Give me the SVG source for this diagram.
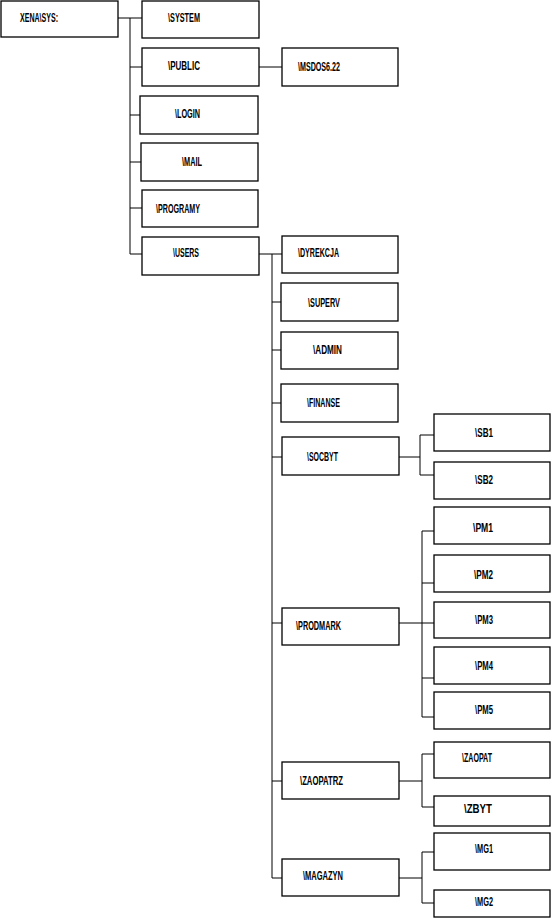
<svg xmlns="http://www.w3.org/2000/svg" width="553" height="918" viewBox="0 0 553 918">
<style>
.b{fill:#fff;stroke:#000;stroke-width:1.3}
.t{font-family:"Liberation Sans",Arial,sans-serif;font-size:13px;font-weight:bold;fill:#000}
.c{fill:none;stroke:#000;stroke-width:1}
</style>
<rect width="553" height="918" fill="#fff"/>
<g id="connectors">
<path class="c" d="M118,18H130M130,18V254M130,18H142M130,67H142M130,115H142M130,162H142M130,208H142M130,254H142"/>
<path class="c" d="M259,67H282"/>
<path class="c" d="M259,254H272M272,254V878M272,254H282M272,302H282M272,350H282M272,403H282M272,457H282M272,623H282M272,781H282M272,878H282"/>
<path class="c" d="M399,457H420M420,435V475M420,435H434M420,475H434"/>
<path class="c" d="M399,623H434M422,531V717M422,531H434M422,583H434M422,678H434M422,717H434"/>
<path class="c" d="M399,781H422M422,754V807M422,754H434M422,807H434"/>
<path class="c" d="M399,878H422M422,852V903M422,852H434M422,903H434"/>
</g>
<g id="root"><rect class="b" x="1" y="1" width="117" height="36"/><text class="t" x="20" y="22" textLength="38" lengthAdjust="spacingAndGlyphs">XENA\SYS:</text></g>
<g id="system"><rect class="b" x="142" y="1" width="117" height="37"/><text class="t" x="168" y="22" textLength="32" lengthAdjust="spacingAndGlyphs">\SYSTEM</text></g>
<g id="public"><rect class="b" x="142" y="48" width="117" height="38"/><text class="t" x="168" y="70" textLength="32" lengthAdjust="spacingAndGlyphs">\PUBLIC</text></g>
<g id="msdos"><rect class="b" x="282" y="48" width="116" height="38"/><text class="t" x="298" y="71" textLength="42" lengthAdjust="spacingAndGlyphs">\MSDOS6.22</text></g>
<g id="login"><rect class="b" x="140" y="96" width="118" height="38"/><text class="t" x="175" y="118" textLength="25" lengthAdjust="spacingAndGlyphs">\LOGIN</text></g>
<g id="mail"><rect class="b" x="141" y="143" width="117" height="38"/><text class="t" x="182" y="166" textLength="20" lengthAdjust="spacingAndGlyphs">\MAIL</text></g>
<g id="programy"><rect class="b" x="142" y="190" width="116" height="37"/><text class="t" x="156" y="213" textLength="44" lengthAdjust="spacingAndGlyphs">\PROGRAMY</text></g>
<g id="users"><rect class="b" x="142" y="237" width="117" height="38"/><text class="t" x="173" y="257" textLength="26" lengthAdjust="spacingAndGlyphs">\USERS</text></g>
<g id="dyrekcja"><rect class="b" x="282" y="236" width="116" height="37"/><text class="t" x="298" y="257" textLength="41" lengthAdjust="spacingAndGlyphs">\DYREKCJA</text></g>
<g id="superv"><rect class="b" x="281" y="283" width="117" height="38"/><text class="t" x="308" y="307" textLength="32" lengthAdjust="spacingAndGlyphs">\SUPERV</text></g>
<g id="admin"><rect class="b" x="281" y="332" width="117" height="37"/><text class="t" x="313" y="354" textLength="29" lengthAdjust="spacingAndGlyphs">\ADMIN</text></g>
<g id="finanse"><rect class="b" x="281" y="384" width="117" height="38"/><text class="t" x="307" y="407" textLength="33" lengthAdjust="spacingAndGlyphs">\FINANSE</text></g>
<g id="socbyt"><rect class="b" x="282" y="437" width="117" height="38"/><text class="t" x="307" y="461" textLength="31" lengthAdjust="spacingAndGlyphs">\SOCBYT</text></g>
<g id="sb1"><rect class="b" x="434" y="414" width="116" height="37"/><text class="t" x="475" y="437" textLength="18" lengthAdjust="spacingAndGlyphs">\SB1</text></g>
<g id="sb2"><rect class="b" x="434" y="462" width="116" height="37"/><text class="t" x="475" y="484" textLength="18" lengthAdjust="spacingAndGlyphs">\SB2</text></g>
<g id="prodmark"><rect class="b" x="282" y="608" width="117" height="37"/><text class="t" x="296" y="630" textLength="45" lengthAdjust="spacingAndGlyphs">\PRODMARK</text></g>
<g id="pm1"><rect class="b" x="434" y="507" width="116" height="37"/><text class="t" x="473" y="532" textLength="20" lengthAdjust="spacingAndGlyphs">\PM1</text></g>
<g id="pm2"><rect class="b" x="434" y="555" width="116" height="37"/><text class="t" x="474" y="579" textLength="19" lengthAdjust="spacingAndGlyphs">\PM2</text></g>
<g id="pm3"><rect class="b" x="434" y="602" width="116" height="36"/><text class="t" x="475" y="624" textLength="18" lengthAdjust="spacingAndGlyphs">\PM3</text></g>
<g id="pm4"><rect class="b" x="434" y="647" width="116" height="37"/><text class="t" x="475" y="670" textLength="18" lengthAdjust="spacingAndGlyphs">\PM4</text></g>
<g id="pm5"><rect class="b" x="434" y="692" width="116" height="37"/><text class="t" x="475" y="714" textLength="18" lengthAdjust="spacingAndGlyphs">\PM5</text></g>
<g id="zaopatrz"><rect class="b" x="282" y="762" width="117" height="37"/><text class="t" x="300" y="785" textLength="43" lengthAdjust="spacingAndGlyphs">\ZAOPATRZ</text></g>
<g id="zaopat"><rect class="b" x="434" y="742" width="116" height="36"/><text class="t" x="462" y="762" textLength="30" lengthAdjust="spacingAndGlyphs">\ZAOPAT</text></g>
<g id="zbyt"><rect class="b" x="434" y="796" width="116" height="30"/><text class="t" x="464" y="813" textLength="28" lengthAdjust="spacingAndGlyphs">\ZBYT</text></g>
<g id="magazyn"><rect class="b" x="282" y="859" width="117" height="37"/><text class="t" x="303" y="880" textLength="40" lengthAdjust="spacingAndGlyphs">\MAGAZYN</text></g>
<g id="mg1"><rect class="b" x="434" y="833" width="116" height="37"/><text class="t" x="475" y="853" textLength="18" lengthAdjust="spacingAndGlyphs">\MG1</text></g>
<g id="mg2"><rect class="b" x="434" y="890" width="116" height="27"/><text class="t" x="475" y="906" textLength="18" lengthAdjust="spacingAndGlyphs">\MG2</text></g>
</svg>
